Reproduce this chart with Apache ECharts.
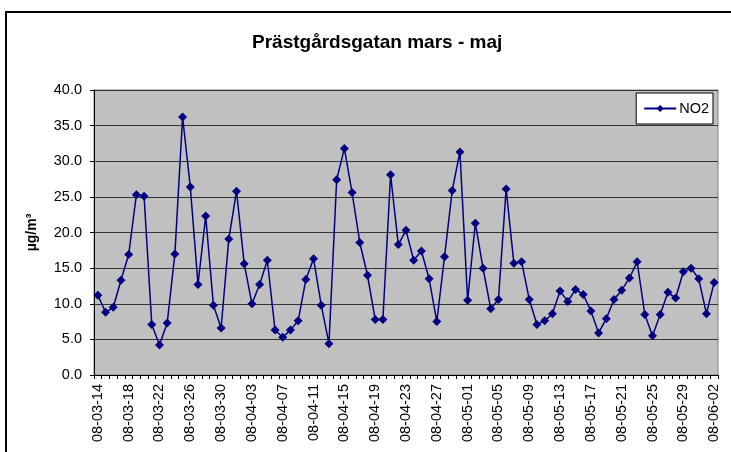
<!DOCTYPE html>
<html>
<head>
<meta charset="utf-8">
<script src="https://cdn.jsdelivr.net/npm/echarts@6/dist/echarts.min.js"></script>
<style>
  html, body { margin: 0; padding: 0; background: #fff; }
  #chart { width: 731px; height: 452px; }
</style>
</head>
<body>
<div id="chart"></div>
<script>
// Dates 08-03-14 .. 08-06-02, one value per day
const dates = [
  '08-03-14','08-03-15','08-03-16','08-03-17','08-03-18','08-03-19','08-03-20','08-03-21','08-03-22','08-03-23',
  '08-03-24','08-03-25','08-03-26','08-03-27','08-03-28','08-03-29','08-03-30','08-03-31','08-04-01','08-04-02',
  '08-04-03','08-04-04','08-04-05','08-04-06','08-04-07','08-04-08','08-04-09','08-04-10','08-04-11','08-04-12',
  '08-04-13','08-04-14','08-04-15','08-04-16','08-04-17','08-04-18','08-04-19','08-04-20','08-04-21','08-04-22',
  '08-04-23','08-04-24','08-04-25','08-04-26','08-04-27','08-04-28','08-04-29','08-04-30','08-05-01','08-05-02',
  '08-05-03','08-05-04','08-05-05','08-05-06','08-05-07','08-05-08','08-05-09','08-05-10','08-05-11','08-05-12',
  '08-05-13','08-05-14','08-05-15','08-05-16','08-05-17','08-05-18','08-05-19','08-05-20','08-05-21','08-05-22',
  '08-05-23','08-05-24','08-05-25','08-05-26','08-05-27','08-05-28','08-05-29','08-05-30','08-05-31','08-06-01',
  '08-06-02'
];

const no2 = [
  11.2, 8.8, 9.5, 13.3, 16.9, 25.3, 25.1, 7.1, 4.2, 7.3,
  17.0, 36.2, 26.4, 12.7, 22.3, 9.8, 6.6, 19.1, 25.8, 15.6,
  10.0, 12.7, 16.1, 6.3, 5.3, 6.3, 7.6, 13.4, 16.3, 9.8,
  4.4, 27.4, 31.8, 25.6, 18.6, 14.0, 7.8, 7.8, 28.1, 18.3,
  20.3, 16.1, 17.4, 13.5, 7.5, 16.6, 25.9, 31.3, 10.5, 21.3,
  15.0, 9.3, 10.6, 26.1, 15.7, 15.9, 10.6, 7.1, 7.6, 8.6,
  11.8, 10.3, 12.0, 11.3, 9.0, 5.9, 7.9, 10.6, 11.9, 13.6,
  15.9, 8.5, 5.5, 8.5, 11.6, 10.8, 14.5, 15.0, 13.5, 8.6,
  13.0
];

const chart = echarts.init(document.getElementById('chart'));

const option = {
  animation: false,
  textStyle: { fontFamily: 'Liberation Sans, Arial, sans-serif' },
  title: {
    text: 'Prästgårdsgatan mars - maj',
    left: 247,
    top: 28,
    textStyle: { fontSize: 19, fontWeight: 'bold', color: '#000' }
  },
  graphic: [{
    type: 'rect',
    shape: { x: 6, y: 12, width: 740, height: 460 },
    style: { fill: 'none', stroke: '#000', lineWidth: 2 },
    silent: true
  }],
  legend: {
    right: 18,
    top: 93,
    backgroundColor: '#fff',
    borderColor: '#000',
    borderWidth: 1,
    padding: [8, 4, 8, 7],
    itemWidth: 32,
    itemHeight: 9,
    itemGap: 4,
    textStyle: { fontSize: 14.5, color: '#000', padding: [0, 0, 0, -2] },
    data: ['NO2']
  },
  grid: {
    left: 94,
    top: 90,
    right: 13,
    bottom: 77,
    show: true,
    backgroundColor: '#c0c0c0',
    borderColor: '#808080',
    borderWidth: 1
  },
  xAxis: {
    type: 'category',
    data: dates,
    boundaryGap: true,
    axisLine: { lineStyle: { color: '#000', width: 1 } },
    axisTick: { show: true, interval: 0, length: 4, lineStyle: { color: '#000' } },
    axisLabel: {
      interval: 3,
      rotate: 90,
      fontSize: 14.5,
      color: '#000',
      margin: 9
    },
    splitLine: { show: false }
  },
  yAxis: {
    type: 'value',
    min: 0,
    max: 40,
    interval: 5,
    name: 'µg/m³',
    nameLocation: 'middle',
    nameGap: 55,
    nameTextStyle: { fontSize: 14, fontWeight: 'bold', color: '#000' },
    axisLine: { show: true, lineStyle: { color: '#000', width: 1 } },
    axisTick: { show: true, length: 4, lineStyle: { color: '#000' } },
    axisLabel: {
      fontSize: 14.5,
      color: '#000',
      margin: 12,
      formatter: v => v.toFixed(1)
    },
    splitLine: { show: true, lineStyle: { color: '#333', width: 1 } }
  },
  series: [{
    name: 'NO2',
    type: 'line',
    data: no2,
    symbol: 'diamond',
    symbolSize: 9,
    showAllSymbol: true,
    lineStyle: { color: '#000080', width: 1.5 },
    itemStyle: { color: '#000080' }
  }]
};

chart.setOption(option);
</script>
</body>
</html>
